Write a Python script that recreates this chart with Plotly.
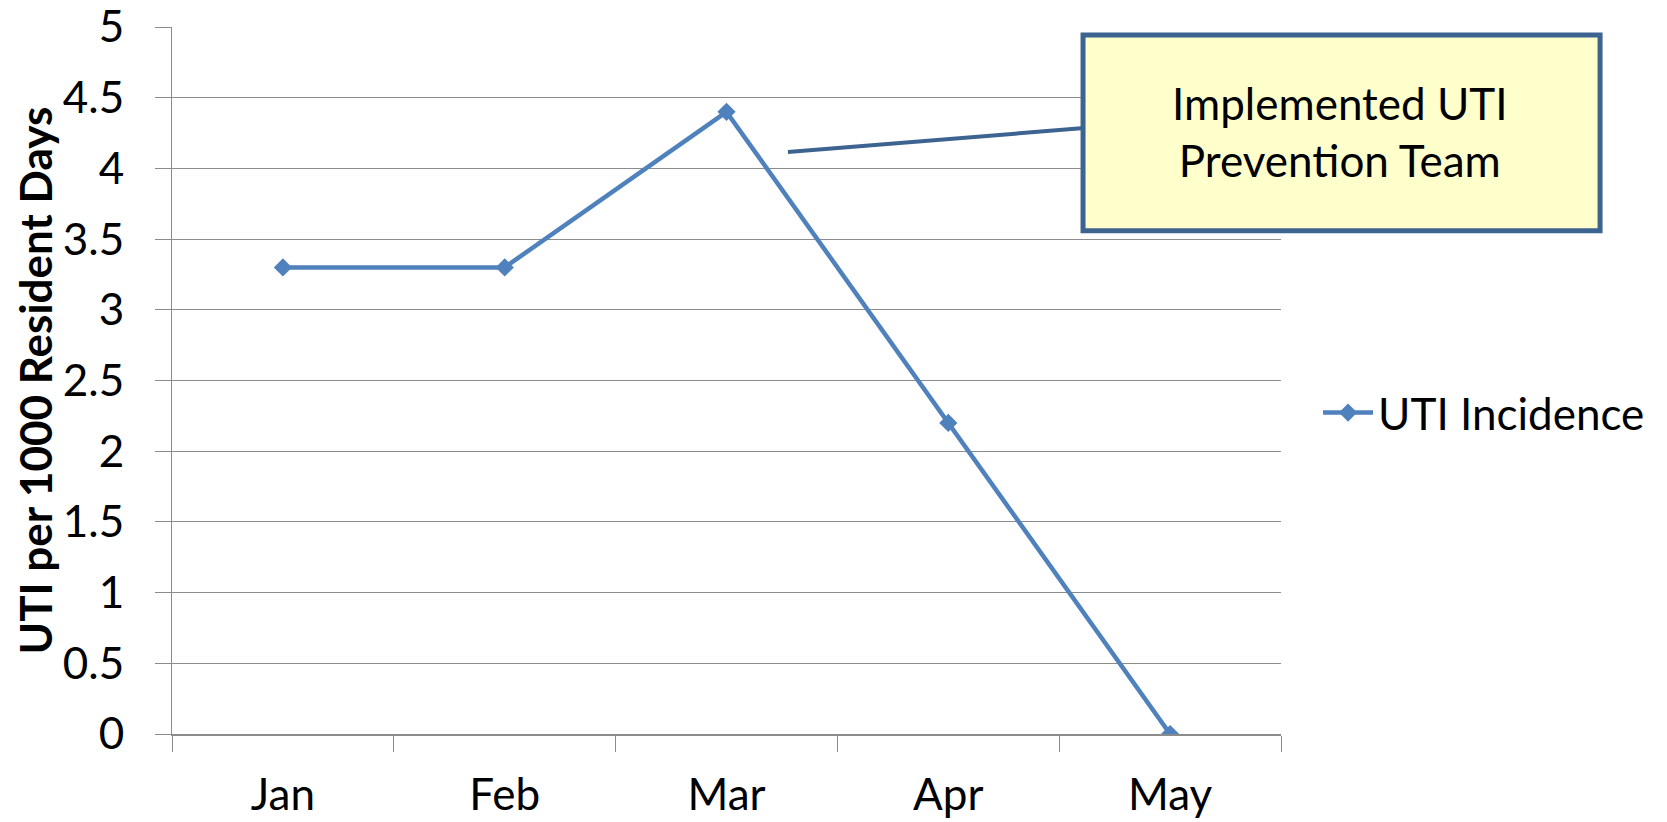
import plotly.graph_objects as go

months = ["Jan", "Feb", "Mar", "Apr", "May"]
uti_incidence = [3.3, 3.3, 4.4, 2.2, 0.0]
series_name = "UTI Incidence"
y_title = "UTI per 1000 Resident Days"
note_text = "Implemented UTI<br>Prevention Team"
y_ticks = [0, 0.5, 1, 1.5, 2, 2.5, 3, 3.5, 4, 4.5, 5]

LINE = "#4F81BD"
GRID = "#8C8C8C"
BOX_EDGE = "#3D6391"
FONT = "Lato, Carlito, Open Sans, sans-serif"
FS = 44

W, H = 1667, 822
L, R, T, B = 172, 386, 27, 88
PW = W - L - R

fig = go.Figure()
fig.add_trace(go.Scatter(
    x=months, y=uti_incidence, mode="lines+markers", name=series_name,
    line=dict(color=LINE, width=4.5),
    marker=dict(symbol="diamond", size=14, color=LINE),
))

fig.update_layout(
    width=W, height=H,
    margin=dict(l=L, r=R, t=T, b=B, autoexpand=False),
    plot_bgcolor="white", paper_bgcolor="white",
    showlegend=True,
    legend=dict(x=1.0334, y=0.454, xanchor="left", yanchor="middle",
                itemwidth=50,
                font=dict(family=FONT, size=FS, color="black"),
                bgcolor="rgba(0,0,0,0)"),
    xaxis=dict(type="category", range=[-0.5, 4.5], tickson="boundaries",
               ticks="outside", ticklen=16, tickcolor=GRID, tickwidth=1,
               showgrid=False, showline=True, linecolor=GRID, linewidth=2,
               tickfont=dict(family=FONT, size=FS, color="black"),
               ticklabelstandoff=21, zeroline=False, automargin=False),
    yaxis=dict(range=[0, 5], tickvals=y_ticks, ticktext=[f"{v:g}" for v in y_ticks],
               ticks="outside", ticklen=16, tickcolor=GRID,
               showgrid=True, gridcolor=GRID, gridwidth=1,
               showline=True, linecolor=GRID, linewidth=1, zeroline=False,
               ticklabelstandoff=22, ticklabeloverflow="allow", automargin=False,
               tickfont=dict(family=FONT, size=FS, color="black")),
)

# y axis title (rotated)
fig.add_annotation(xref="paper", yref="paper", x=(34 - L) / PW, y=0.5,
                   text=f"<b>{y_title}</b>", textangle=-90, showarrow=False,
                   xanchor="center", yanchor="middle",
                   font=dict(family=FONT, size=FS, color="black"))

# connector line from the March peak area to the note box
fig.add_shape(type="line", xref="x", yref="y", x0=2.277, y0=4.116, x1=3.64, y1=4.289,
              line=dict(color=BOX_EDGE, width=4))
# note box
fig.add_shape(type="rect", xref="paper", yref="paper", x0=0.8215, x1=1.2877, y0=0.7119, y1=0.9887,
              fillcolor="#FFFFCC", line=dict(color=BOX_EDGE, width=5))
fig.add_annotation(xref="paper", yref="paper", x=1.0532, y=0.8515, text=note_text,
                   showarrow=False, xanchor="center", yanchor="middle",
                   font=dict(family=FONT, size=FS, color="black"), align="center")

fig.write_html("out.html", config={"displayModeBar": False},
               post_script="document.body.style.margin='0';")
